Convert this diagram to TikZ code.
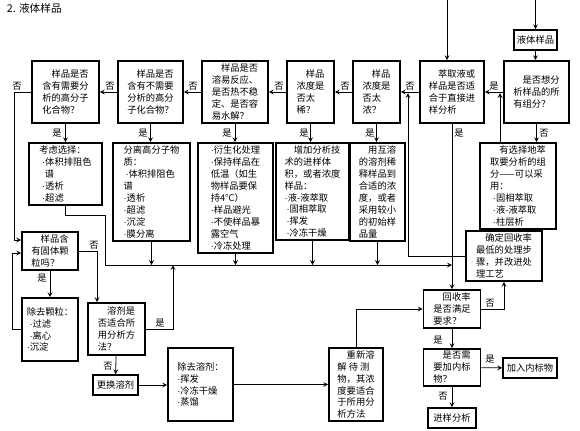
\documentclass[tikz,border=0pt]{standalone}
\usepackage{fontspec}
\setmainfont{Noto Sans CJK SC}
\newfontfamily\dotfont{Liberation Sans}
\newcommand{\itemdot}{{\dotfont\textperiodcentered}}

\begin{document}
\begin{tikzpicture}[
  x=0.025cm, y=-0.025cm,
  box/.style={draw, line width=1.1pt, inner sep=1pt, align=left, font=\fontsize{6.6}{8.5}\selectfont},
  arr/.style={->, >=stealth, line width=0.55pt},
  lbl/.style={font=\fontsize{6.6}{8}\selectfont, inner sep=0pt}
]
  \useasboundingbox (0,0) rectangle (580,430);
  \node[anchor=west, font=\fontsize{7.6}{9}\selectfont] (title) at (2,8) {2. 液体样品};

  \node[box, minimum width=1.075cm, minimum height=0.5cm] (liquid) at (535.5,40) {液体样品};

  \node[box, minimum width=1.675cm, minimum height=1.55cm] (q1) at (65.5,92) {\hspace*{1em}样品是否\\含有需要分\\析的高分子\\化合物？};
  \node[box, minimum width=1.625cm, minimum height=1.55cm] (q2) at (150.5,92) {\hspace*{1em}样品是否\\含有不需要\\分析的高分\\子化合物？};
  \node[box, minimum width=1.65cm, minimum height=1.55cm] (q3) at (235,92) {\hspace*{1em}样品是否\\溶易反应、\\是否热不稳\\定、是否容\\易水解？};
  \node[box, minimum width=1.175cm, minimum height=1.55cm] (q4) at (310.5,92) {\hspace*{1em}样品\\浓度是\\否太\\稀？};
  \node[box, minimum width=1.175cm, minimum height=1.55cm] (q5) at (376.5,92) {\hspace*{1em}样品\\浓度是\\否太\\浓？};
  \node[box, minimum width=1.6cm, minimum height=1.55cm] (q6) at (452,92) {\hspace*{1em}萃取液或\\样品是否适\\合于直接进\\样分析};
  \node[box, minimum width=1.625cm, minimum height=1.55cm] (q7) at (536.5,92) {\hspace*{1em}是否想分\\析样品的所\\有组分？};

  \node[box, minimum width=1.825cm, minimum height=1.55cm] (a1) at (65.5,174) {考虑选择：\\\hspace*{0.3em}\itemdot 体积排阻色\\\hspace*{0.6em}谱\\\hspace*{0.3em}\itemdot 透析\\\hspace*{0.3em}\itemdot 超滤};
  \node[box, minimum width=1.925cm, minimum height=2.45cm] (a2) at (151.5,192) {分离高分子物\\质：\\\hspace*{0.2em}\itemdot 体积排阻色\\谱\\\itemdot 透析\\\itemdot 超滤\\\itemdot 沉淀\\\itemdot 膜分离};
  \node[box, minimum width=1.875cm, minimum height=2.75cm] (a3) at (235.5,198) {\itemdot 衍生化处理\\\itemdot 保持样品在\\低温（如生\\物样品要保\\持4°C）\\\itemdot 样品避光\\\itemdot 不使样品暴\\露空气\\\itemdot 冷冻处理};
  \node[box, minimum width=1.825cm, minimum height=2.425cm] (a4) at (312.5,191.5) {\hspace*{1em}增加分析技\\术的进样体\\积，或者浓度\\样品：\\\itemdot 液-液萃取\\\hspace*{0.2em}\itemdot 固相萃取\\\hspace*{0.2em}\itemdot 挥发\\\hspace*{0.2em}\itemdot 冷冻干燥};
  \node[box, minimum width=1.375cm, minimum height=2.45cm] (a5) at (377.5,192) {\hspace*{1em}用互溶\\的溶剂稀\\释样品到\\合适的浓\\度，或者\\采用较小\\的初始样\\品量};
  \node[box, minimum width=1.9cm, minimum height=2.15cm] (a7) at (518,186) {\hspace*{1em}有选择地萃\\取要分析的组\\分——可以采\\用：\\\hspace*{0.3em}\itemdot 固相萃取\\\hspace*{0.3em}\itemdot 液-液萃取\\\hspace*{0.3em}\itemdot 柱层析};
  \node[box, minimum width=1.9cm, minimum height=1.25cm] (improve) at (504,256) {\hspace*{1em}确定回收率\\最低的处理步\\骤，并改进处\\理工艺};

  \node[box, minimum width=1.4cm, minimum height=0.95cm] (solid) at (50,251) {\hspace*{1em}样品含\\有固体颗\\粒吗？};
  \node[box, minimum width=1.4cm, minimum height=1.575cm] (rmpart) at (50,329.5) {除去颗粒：\\\hspace*{0.3em}\itemdot 过滤\\\hspace*{0.3em}\itemdot 离心\\\itemdot 沉淀};
  \node[box, minimum width=1.425cm, minimum height=1.3cm] (solvent) at (116.5,329) {\hspace*{1em}溶剂是\\否适合所\\用分析方\\法？};
  \node[box, minimum width=1.125cm, minimum height=0.5cm] (change) at (115.5,385) {更换溶剂};
  \node[box, minimum width=1.625cm, minimum height=1.825cm] (rmsolv) at (200.5,384.5) {除去溶剂：\\\itemdot 挥发\\\itemdot 冷冻干燥\\\itemdot 蒸馏};
  \node[box, minimum width=1.35cm, minimum height=1.825cm] (redis) at (356,384.5) {\hspace*{1em}重新溶\\解 待 测\\物，其浓\\度要适合\\于所用分\\析方法};
  \node[box, minimum width=1.425cm, minimum height=0.95cm] (recov) at (452,309) {\hspace*{1em}回收率\\是否满足\\要求？};
  \node[box, minimum width=1.425cm, minimum height=0.925cm] (needis) at (452,367.5) {\hspace*{1em}是否需\\要加内标\\物？};
  \node[box, minimum width=1.35cm, minimum height=0.5cm] (addis) at (530,368) {加入内标物};
  \node[box, minimum width=1.2cm, minimum height=0.5cm] (inject) at (452,418) {进样分析};

  \coordinate (in1) at (447,0);
  \coordinate (in2) at (535.5,0);
  \coordinate (k1) at (105,215);
  \coordinate (bus) at (452,265);
  \coordinate (up) at (173,265);
  \coordinate (j2) at (408,93);
  \coordinate (j3) at (500,93);
  \coordinate (k2) at (14,240);
  \coordinate (k3) at (12,253);
  \coordinate (k4) at (97,251);

  \draw[arr] (in1) -- (in1 |- q6.north);
  \draw[arr] (in2) -- (liquid);
  \draw[arr] (liquid) -- (liquid |- q7.north);

  \draw[arr] (q7) -- (q6);
  \draw[arr] (q6) -- (q5);
  \draw[arr] (q5) -- (q4);
  \draw[arr] (q4) -- (q3);
  \draw[arr] (q3) -- (q2);
  \draw[arr] (q2) -- (q1);
  \draw[arr] (q1) -| (k2) -- (k2 -| solid.west);

  \draw[arr] (q1) -- (q1 |- a1.north);
  \draw[arr] (q2) -- (q2 |- a2.north);
  \draw[arr] (q3) -- (q3 |- a3.north);
  \draw[arr] (q4) -- (q4 |- a4.north);
  \draw[arr] (q5) -- (q5 |- a5.north);
  \draw[arr] (q7) -- (q7 |- a7.north);
  \draw[arr] (q6) -- (recov);

  \draw[arr] (a1.south) |- (k1) |- (bus);
  \draw[arr] (a2) -- (a2 |- bus);
  \draw[arr] (a3) -- (a3 |- bus);
  \draw[arr] (a4) -- (a4 |- bus);
  \draw[arr] (a5) -- (a5 |- bus);
  \draw[arr] (a7.north -| j3) -- (j3);
  \draw[arr] (improve.west) -| (j2);

  \draw[arr] (solid) -- (rmpart);
  \draw[arr] (rmpart) -| (k3) -- (k3 -| solid.west);
  \draw[arr] (solid) -| (k4 |- solvent.north);
  \draw[arr] (solvent) -| (up);
  \draw[arr] (solvent) -- (change);
  \draw[arr] (change) -- (change -| rmsolv.west);
  \draw[arr] (rmsolv) -- (rmsolv -| redis.west);
  \draw[arr] (redis.north) |- (recov.west);
  \draw[arr] (recov) -| (improve.south);
  \draw[arr] (recov) -- (needis);
  \draw[arr] (needis) -- (addis);
  \draw[arr] (needis) -- (inject);

  \node[lbl] (l1) at (494,86) {是};
  \node[lbl] (l2) at (410,86) {否};
  \node[lbl] (l3) at (345,86) {否};
  \node[lbl] (l4) at (279,86) {否};
  \node[lbl] (l5) at (193,86) {否};
  \node[lbl] (l6) at (110,86) {否};
  \node[lbl] (l7) at (17,86) {否};
  \node[lbl] (l8) at (57,133) {是};
  \node[lbl] (l9) at (143,133) {是};
  \node[lbl] (l10) at (227,133) {是};
  \node[lbl] (l11) at (304,133) {是};
  \node[lbl] (l12) at (370,133) {是};
  \node[lbl] (l13) at (459,133) {是};
  \node[lbl] (l14) at (544,133) {否};
  \node[lbl] (l15) at (94,245) {否};
  \node[lbl] (l16) at (42,278) {是};
  \node[lbl] (l17) at (160,323) {是};
  \node[lbl] (l18) at (108,366) {否};
  \node[lbl] (l19) at (490,303) {否};
  \node[lbl] (l20) at (438,340) {是};
  \node[lbl] (l21) at (490,359) {是};
  \node[lbl] (l22) at (443,396) {否};
\end{tikzpicture}
\end{document}
